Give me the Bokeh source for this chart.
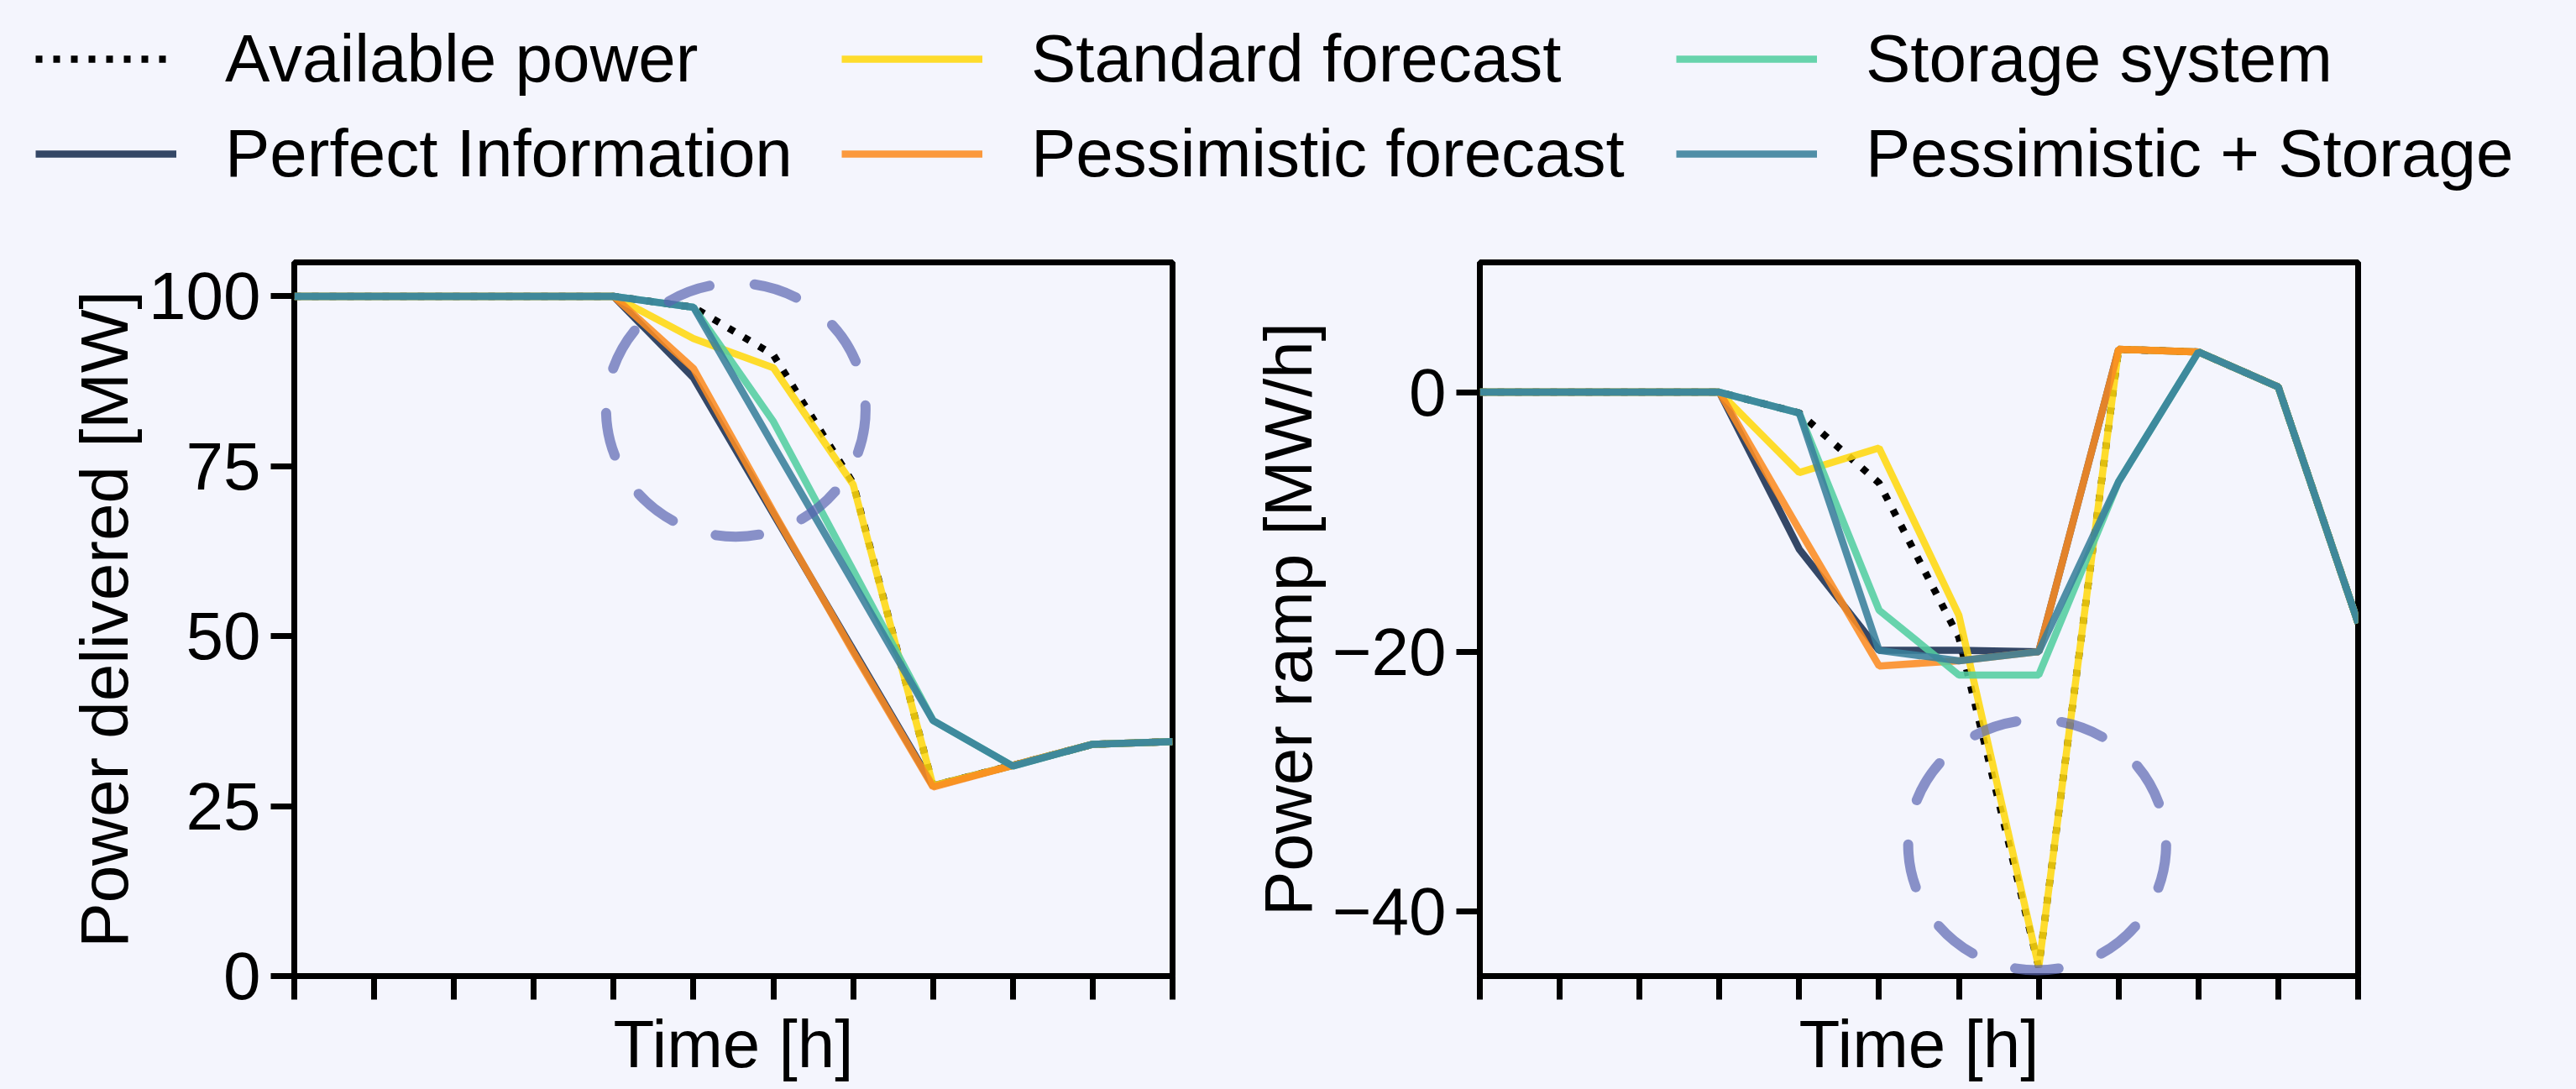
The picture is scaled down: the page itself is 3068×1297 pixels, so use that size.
from bokeh.plotting import figure
from bokeh.layouts import column, row
from bokeh.models import Range1d, FixedTicker, Legend, LegendItem, GlobalInlineStyleSheet
from bokeh.embed import file_html
from bokeh.resources import INLINE

# ---------------- data ----------------
hours = list(range(12))

series_names = ["Available power", "Perfect Information", "Standard forecast",
                "Pessimistic forecast", "Storage system", "Pessimistic + Storage"]

avail_power    = [100, 100, 100, 100, 100, 98.4, 91.4, 72.5, 28.0, 31.0, 34.1, 34.5]
perfect_power  = [100, 100, 100, 100, 100, 88.0, 68.0, 48.0, 28.0, 31.0, 34.1, 34.5]
standard_power = [100, 100, 100, 100, 100, 93.8, 89.5, 72.3, 28.0, 31.0, 34.1, 34.5]
pessim_power   = [100, 100, 100, 100, 100, 89.4, 68.3, 47.7, 27.8, 31.0, 34.1, 34.5]
storage_power  = [100, 100, 100, 100, 100, 98.4, 81.6, 59.7, 37.6, 30.9, 34.1, 34.5]
pstor_power    = [100, 100, 100, 100, 100, 98.4, 78.1, 57.9, 37.6, 30.9, 34.1, 34.5]

avail_ramp    = [0, 0, 0, 0, -1.6, -7.0, -18.9, -44.3, 3.3, 3.1, 0.4, -17.8]
perfect_ramp  = [0, 0, 0, 0, -12.1, -19.9, -19.9, -20.0, 3.3, 3.1, 0.4, -17.8]
standard_ramp = [0, 0, 0, 0, -6.2, -4.3, -17.2, -44.3, 3.3, 3.1, 0.4, -17.8]
pessim_ramp   = [0, 0, 0, 0, -10.6, -21.1, -20.7, -20.0, 3.3, 3.1, 0.4, -17.8]
storage_ramp  = [0, 0, 0, 0, -1.6, -16.8, -21.8, -21.8, -6.9, 3.1, 0.4, -17.8]
pstor_ramp    = [0, 0, 0, 0, -1.6, -19.9, -20.7, -20.0, -6.9, 3.1, 0.4, -17.8]

power_ticks = [0, 25, 50, 75, 100]
ramp_ticks = [-40, -20, 0]
ramp_tick_labels = ["\u221240", "\u221220", "0"]

# highlight circles (centre, width, height in data units)
circle_left = dict(x=[5.53], y=[83.3], w=3.25, h=37.3)
circle_right = dict(x=[6.98], y=[-34.9], w=3.23, h=19.3)

# ---------------- styles ----------------
BG = "#f4f5fd"
FONT = "Liberation Sans"
FS = "80px"
LW = 8.5
ALPHA = 0.88
styles = [
    dict(line_color="black", line_width=8.5, line_dash="8 13", line_alpha=1.0),
    dict(line_color="#192f51", line_width=LW, line_alpha=ALPHA),
    dict(line_color="#ffd80f", line_width=LW, line_alpha=ALPHA),
    dict(line_color="#fc8c22", line_width=LW, line_alpha=ALPHA),
    dict(line_color="#53cea0", line_width=LW, line_alpha=ALPHA),
    dict(line_color="#397f9b", line_width=LW, line_alpha=ALPHA),
]


def style_plot(p, yticks, ylabel, overrides=None):
    p.background_fill_color = BG
    p.border_fill_color = BG
    p.outline_line_color = "black"
    p.outline_line_width = 7
    p.outline_line_alpha = 1.0
    p.xgrid.visible = False
    p.ygrid.visible = False
    for ax in p.axis:
        ax.axis_line_color = None
        ax.major_tick_line_width = 7
        ax.major_tick_line_color = "black"
        ax.major_tick_out = 28
        ax.major_tick_in = 0
        ax.minor_tick_out = 0
        ax.minor_tick_in = 0
        ax.axis_label_text_font = FONT
        ax.axis_label_text_font_size = FS
        ax.axis_label_text_font_style = "normal"
        ax.axis_label_text_color = "black"
        ax.major_label_text_font = FONT
        ax.major_label_text_color = "black"
    p.xaxis.ticker = FixedTicker(ticks=hours)
    p.xaxis.major_label_overrides = {h: "" for h in hours}
    p.xaxis.major_label_text_font_size = "1px"
    p.xaxis.major_label_standoff = 0
    p.xaxis.axis_label = "Time [h]"
    p.xaxis.axis_label_standoff = 8
    p.yaxis.ticker = FixedTicker(ticks=yticks)
    if overrides:
        p.yaxis.major_label_overrides = overrides
    p.yaxis.major_label_text_font_size = FS
    p.yaxis.major_label_standoff = 12
    p.yaxis.axis_label = ylabel
    p.yaxis.axis_label_standoff = 5


TOTAL_W = 3060
TOTAL_H = 1290
LEG_H = 270
PLOT_H = TOTAL_H - LEG_H
FRAME_W, FRAME_H = 1046, 861
TOP = 312 - LEG_H
W1 = 1440
W2 = TOTAL_W - W1
L1 = 350
L2 = 1762 - W1

p1 = figure(width=W1, height=PLOT_H, x_range=Range1d(0, 11), y_range=Range1d(0, 105),
            toolbar_location=None, output_backend="svg",
            min_border_left=L1, min_border_right=W1 - L1 - FRAME_W,
            min_border_top=TOP, min_border_bottom=PLOT_H - TOP - FRAME_H)
p2 = figure(width=W2, height=PLOT_H, x_range=Range1d(0, 11), y_range=Range1d(-45, 10),
            toolbar_location=None, output_backend="svg",
            min_border_left=L2, min_border_right=W2 - L2 - FRAME_W,
            min_border_top=TOP, min_border_bottom=PLOT_H - TOP - FRAME_H)

style_plot(p1, power_ticks, "Power delivered [MW]")
style_plot(p2, ramp_ticks, "Power ramp [MW/h]",
           overrides={t: l for t, l in zip(ramp_ticks, ramp_tick_labels)})

power_series = [avail_power, perfect_power, standard_power, pessim_power, storage_power, pstor_power]
ramp_series = [avail_ramp, perfect_ramp, standard_ramp, pessim_ramp, storage_ramp, pstor_ramp]
for ys, st in zip(power_series, styles):
    p1.line(hours, ys, **st)
for ys, st in zip(ramp_series, styles):
    p2.line(hours, ys, **st)

circ_style = dict(fill_color=None, line_color="#5a65b1", line_alpha=0.7, line_width=12,
                  line_dash="52 54", line_cap="round")
p1.ellipse(x=circle_left["x"], y=circle_left["y"], width=circle_left["w"],
           height=circle_left["h"], **circ_style)
p2.ellipse(x=circle_right["x"], y=circle_right["y"], width=circle_right["w"],
           height=circle_right["h"], **circ_style)

# ---------------- legend strip ----------------
# The series are drawn again here outside the visible window, only to feed the legend.
leg = figure(width=TOTAL_W, height=LEG_H, x_range=Range1d(-20, -19), y_range=Range1d(-20, -19),
             toolbar_location=None, output_backend="svg", min_border=0,
             x_axis_type=None, y_axis_type=None)
leg.outline_line_color = None
leg.background_fill_color = BG
leg.border_fill_color = BG
leg_renderers = [leg.line(hours, ys, **st) for ys, st in zip(power_series, styles)]

col_x = [42, 1002, 1996]
for c in range(3):
    items = [LegendItem(label=series_names[2 * c + k], renderers=[leg_renderers[2 * c + k]])
             for k in range(2)]
    lg = Legend(items=items, location=(col_x[c], 37), orientation="vertical",
                glyph_width=168, glyph_height=80, label_height=100, label_standoff=58,
                spacing=13, padding=0, margin=0, border_line_color=None,
                background_fill_alpha=0, label_text_font=FONT, label_text_font_size=FS,
                label_text_color="black")
    leg.add_layout(lg, "center")

layout = column(leg, row(p1, p2, spacing=0), spacing=0,
                stylesheets=[GlobalInlineStyleSheet(css="body { background: %s; }" % BG)])

open("out.html", "w").write(file_html(layout, INLINE))
